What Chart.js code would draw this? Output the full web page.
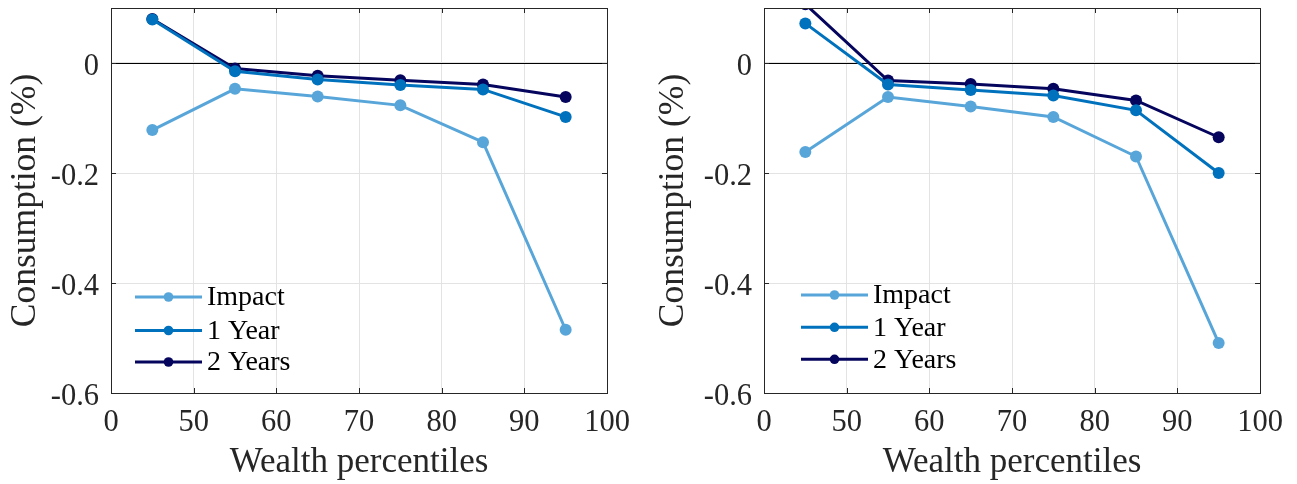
<!DOCTYPE html>
<html>
<head>
<meta charset="utf-8">
<script src="https://cdn.jsdelivr.net/npm/chart.js@4.4.0/dist/chart.umd.min.js"></script>
<style>
  html, body { margin: 0; padding: 0; background: #fff; }
  #wrap { position: relative; width: 1297px; height: 484px; }
  .panel { position: absolute; top: 0; height: 484px; }
</style>
</head>
<body>
<div id="wrap">
  <div class="panel" style="left:0;width:648px"><canvas id="left"></canvas></div>
  <div class="panel" style="left:648px;width:649px"><canvas id="right"></canvas></div>
</div>
<script>
// wealth percentile bins
const percentiles = [45, 55, 65, 75, 85, 95];
const xTicks = [40, 50, 60, 70, 80, 90, 100];
const yTicks = [-0.6, -0.4, -0.2, 0];

// left panel
const impactLeft = [-0.122, -0.047, -0.061, -0.077, -0.144, -0.485];
const year1Left = [0.079, -0.015, -0.030, -0.040, -0.048, -0.098];
const year2Left = [0.080, -0.010, -0.023, -0.0315, -0.039, -0.062];

// right panel
const impactRight = [-0.162, -0.062, -0.079, -0.098, -0.170, -0.509];
const year1Right = [0.072, -0.039, -0.049, -0.059, -0.086, -0.200];
const year2Right = [0.107, -0.032, -0.038, -0.047, -0.068, -0.135];

const seriesNames = ['Impact', '1 Year', '2 Years'];
const seriesColors = ['#58a6d9', '#0072bd', '#05055e'];

const FONT = "'Liberation Serif', 'Times New Roman', serif";
const INK = '#262626';

// box, inward ticks and zero line, matlab style
const framePlugin = {
  id: 'frame',
  beforeDatasetsDraw(chart) {
    const { ctx, chartArea: a, scales: { y } } = chart;
    const y0 = Math.round(y.getPixelForValue(0)) + 0.5;
    ctx.save();
    ctx.strokeStyle = '#000';
    ctx.lineWidth = 1;
    ctx.beginPath();
    ctx.moveTo(a.left, y0);
    ctx.lineTo(a.right, y0);
    ctx.stroke();
    ctx.restore();
  },
  afterDraw(chart) {
    const { ctx, chartArea: a, scales: { x, y } } = chart;
    const len = 5;
    ctx.save();
    ctx.strokeStyle = INK;
    ctx.lineWidth = 1;
    ctx.strokeRect(Math.round(a.left) + 0.5, Math.round(a.top) + 0.5,
      Math.round(a.right - a.left), Math.round(a.bottom - a.top));
    ctx.beginPath();
    xTicks.forEach(v => {
      const px = Math.round(x.getPixelForValue(v)) + 0.5;
      ctx.moveTo(px, a.bottom); ctx.lineTo(px, a.bottom - len);
      ctx.moveTo(px, a.top); ctx.lineTo(px, a.top + len);
    });
    yTicks.forEach(v => {
      const py = Math.round(y.getPixelForValue(v)) + 0.5;
      ctx.moveTo(a.left, py); ctx.lineTo(a.left + len, py);
      ctx.moveTo(a.right, py); ctx.lineTo(a.right - len, py);
    });
    ctx.stroke();
    ctx.restore();
  }
};

// legend drawn inside the axes, lower left
const insideLegend = {
  id: 'insideLegend',
  afterDatasetsDraw(chart, args, opts) {
    const { ctx, chartArea: a } = chart;
    ctx.save();
    ctx.font = '28px ' + FONT;
    ctx.textBaseline = 'middle';
    chart.data.datasets.forEach((ds, i) => {
      const yy = a.top + opts.rows[i];
      const x1 = a.left + opts.lineStart;
      const x2 = x1 + 67;
      ctx.strokeStyle = ds.borderColor;
      ctx.lineWidth = 3;
      ctx.beginPath();
      ctx.moveTo(x1, yy);
      ctx.lineTo(x2, yy);
      ctx.stroke();
      ctx.fillStyle = ds.borderColor;
      ctx.beginPath();
      ctx.arc((x1 + x2) / 2, yy, 4.8, 0, Math.PI * 2);
      ctx.fill();
      ctx.fillStyle = '#000';
      ctx.fillText(ds.label, x2 + 5, yy + 1);
    });
    ctx.restore();
  }
};

function makeChart(id, values, axisWidth, rightPad, legendOpts) {
  const datasets = values.map((vals, i) => ({
    label: seriesNames[i],
    data: vals.map((v, j) => ({ x: percentiles[j], y: v })),
    borderColor: seriesColors[i],
    backgroundColor: seriesColors[i],
    borderWidth: 3,
    pointRadius: 6,
    pointBorderWidth: 0,
    clip: 0
  }));

  return new Chart(document.getElementById(id), {
    type: 'line',
    data: { datasets },
    options: {
      responsive: true,
      maintainAspectRatio: false,
      animation: false,
      layout: { padding: { top: 8, right: rightPad, left: 0, bottom: 0 } },
      plugins: {
        legend: { display: false },
        tooltip: { enabled: false },
        insideLegend: legendOpts
      },
      scales: {
        x: {
          type: 'linear',
          min: 40,
          max: 100,
          afterBuildTicks: s => { s.ticks = xTicks.map(v => ({ value: v })); },
          afterFit: s => { s.height = 91; s.paddingLeft = 0; s.paddingRight = 0; },
          grid: { color: '#e3e3e3', drawTicks: false },
          border: { display: false },
          ticks: {
            padding: 12,
            color: INK,
            font: { family: FONT, size: 30.5 },
            maxRotation: 0,
            callback: v => (v === 40 ? '0' : String(v))
          },
          title: {
            display: true,
            text: 'Wealth percentiles',
            color: INK,
            font: { family: FONT, size: 35 },
            padding: { top: 0, bottom: 0 }
          }
        },
        y: {
          min: -0.6,
          max: 0.1,
          afterBuildTicks: s => { s.ticks = yTicks.map(v => ({ value: v })); },
          afterFit: s => { s.width = axisWidth; s.paddingTop = 0; s.paddingBottom = 0; },
          grid: { color: '#e3e3e3', drawTicks: false },
          border: { display: false },
          ticks: {
            padding: 12,
            labelOffset: 4,
            color: INK,
            font: { family: FONT, size: 30.5 },
            callback: v => (Math.abs(v) < 1e-9 ? '0' : v.toFixed(1))
          },
          title: {
            display: true,
            text: 'Consumption (%)',
            color: INK,
            font: { family: FONT, size: 35.5 },
            padding: { top: 4, bottom: 0 }
          }
        }
      }
    },
    plugins: [framePlugin, insideLegend]
  });
}

makeChart('left', [impactLeft, year1Left, year2Left], 111, 41,
  { lineStart: 24, rows: [289, 322.5, 354] });
makeChart('right', [impactRight, year1Right, year2Right], 116, 37,
  { lineStart: 37, rows: [287, 319.3, 351.3] });
</script>
</body>
</html>
